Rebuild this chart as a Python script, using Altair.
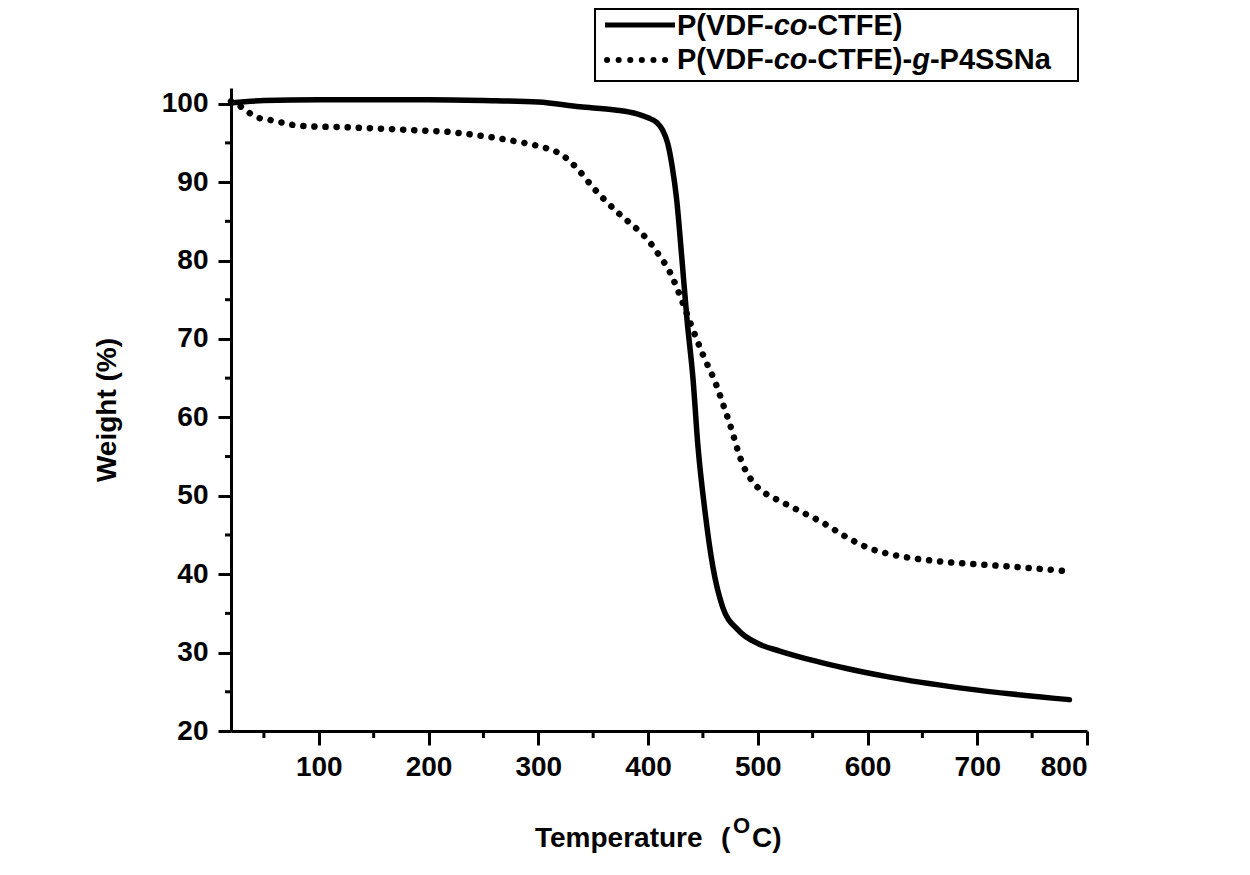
import altair as alt
import pandas as pd

# ---- data ----
temp_solid = [20, 50, 100, 150, 200, 250, 300, 338, 370, 390, 400, 408, 413, 418, 422,
              426, 431, 435.5, 441, 445.5, 452, 459, 468, 482, 501, 520, 553, 580, 619,
              684, 784]
weight_solid = [100.1, 100.4, 100.5, 100.5, 100.5, 100.4, 100.2, 99.6, 99.2, 98.7, 98.2,
                97.6, 96.7, 94.9, 92.0, 87.9, 80.0, 72.5, 64.9, 56.3, 47.9, 41.0, 35.8,
                32.9, 31.1, 30.2, 28.9, 28.0, 26.9, 25.5, 24.0]

temp_dot = [20, 28, 37, 45, 56, 66, 76, 92, 122, 158, 189, 218, 248, 267, 287, 297, 308,
            316, 326, 335, 350, 360, 375, 390, 400, 410, 420, 430, 440, 450, 462, 469,
            476, 482, 486, 491, 499, 508, 519, 539, 560, 580, 600, 619, 638, 668, 707,
            746, 780]
weight_dot = [100.3, 99.7, 98.8, 98.2, 97.9, 97.6, 97.3, 97.1, 97.0, 96.8, 96.6, 96.4,
              95.9, 95.5, 95.0, 94.7, 94.3, 93.9, 93.0, 91.8, 89.3, 87.8, 85.8, 84.0,
              82.6, 80.7, 78.5, 75.2, 71.5, 68.0, 64.2, 61.4, 58.5, 55.7, 54.1, 52.7,
              51.2, 50.2, 49.4, 48.0, 46.5, 44.8, 43.4, 42.6, 42.1, 41.6, 41.2, 40.8, 40.4]

x_major = [100, 200, 300, 400, 500, 600, 700, 800]
x_minor = [50, 150, 250, 350, 450, 550, 650, 750]
y_major = [20, 30, 40, 50, 60, 70, 80, 90, 100]
y_minor = [25, 35, 45, 55, 65, 75, 85, 95]

W, H = 856, 643
FONT = "Liberation Sans"

df_s = pd.DataFrame({"T": temp_solid, "W": weight_solid})
df_d = pd.DataFrame({"T": temp_dot, "W": weight_dot})
df_xm = pd.DataFrame({"T": x_minor})
df_ym = pd.DataFrame({"W": y_minor})
one = pd.DataFrame({"k": [0]})

xscale = alt.Scale(domain=[20, 800], nice=False, zero=False)
yscale = alt.Scale(domain=[20, 102], nice=False, zero=False)

xaxis = alt.Axis(values=x_major, title="", grid=False, labelOverlap=False,
                 labelFont=FONT, labelFontSize=28, labelFontWeight="bold", labelColor="black",
                 labelPadding=8, tickSize=14, tickWidth=3, tickColor="black",
                 domainWidth=3, domainColor="black")
yaxis = alt.Axis(values=y_major, title="Weight (%)", grid=False, labelOverlap=False,
                 labelFont=FONT, labelFontSize=28, labelFontWeight="bold", labelColor="black",
                 labelPadding=10, tickSize=13, tickWidth=3, tickColor="black",
                 domainWidth=3, domainColor="black",
                 titleFont=FONT, titleFontSize=28, titleFontWeight="bold", titleColor="black",
                 titleX=-116, titleY=H / 2, titleAngle=270, titleAlign="center",
                 titleBaseline="alphabetic")

X = alt.X("T:Q", scale=xscale, axis=xaxis)
Y = alt.Y("W:Q", scale=yscale, axis=yaxis)

solid = alt.Chart(df_s).mark_line(color="black", strokeWidth=5.5, interpolate="monotone",
                                  strokeCap="round").encode(x=X, y=Y)
dotted = alt.Chart(df_d).mark_line(color="black", strokeWidth=6.5, interpolate="monotone",
                                   strokeDash=[0.1, 11], strokeCap="round").encode(x=X, y=Y)

xminor = alt.Chart(df_xm).mark_rule(color="black", strokeWidth=3).encode(
    x=X, y=alt.value(H), y2=alt.value(H + 7))
yminor = alt.Chart(df_ym).mark_rule(color="black", strokeWidth=3).encode(
    y=Y, x=alt.value(0), x2=alt.value(-6))


def txt(s, x, y, size, style="normal"):
    return alt.Chart(one).mark_text(text=s, font=FONT, fontSize=size, fontWeight="bold",
                                    fontStyle=style, align="left", baseline="alphabetic",
                                    color="black").encode(x=alt.value(x), y=alt.value(y))


legend_box = alt.Chart(one).mark_rect(fill="white", stroke="black", strokeWidth=2).encode(
    x=alt.value(364), x2=alt.value(847), y=alt.value(-79), y2=alt.value(-7))
leg_solid = alt.Chart(one).mark_rule(color="black", strokeWidth=5).encode(
    x=alt.value(374), x2=alt.value(444), y=alt.value(-63))
leg_dot = alt.Chart(one).mark_rule(color="black", strokeWidth=6, strokeDash=[0.1, 11.5],
                                   strokeCap="round").encode(
    x=alt.value(376), x2=alt.value(444), y=alt.value(-28))

LS = 29
R1, R2 = -53, -19
legend_texts = [
    txt("P(VDF-", 446, R1, LS), txt("co", 542.7, R1, LS, "italic"), txt("-CTFE)", 576.5, R1, LS),
    txt("P(VDF-", 446, R2, LS), txt("co", 542.7, R2, LS, "italic"), txt("-CTFE)-", 576.5, R2, LS),
    txt("g", 681.2, R2, LS, "italic"), txt("-P4SSNa", 698.9, R2, LS),
]

xtitle = [
    txt("Temperature", 304, 759, 28),
    txt("(", 490, 759, 28),
    txt("O", 502, 745, 22),
    txt("C)", 521, 759, 28),
]

chart = alt.layer(
    solid, dotted, xminor, yminor, legend_box, leg_solid, leg_dot, *legend_texts, *xtitle
).properties(
    width=W, height=H,
    autosize=alt.AutoSizeParams(type="none"),
    padding={"left": 223, "top": 80, "right": 150, "bottom": 140},
    background="white",
).configure_view(stroke=None)

chart.save("out.html", embed_options={"renderer": "svg", "actions": False})
